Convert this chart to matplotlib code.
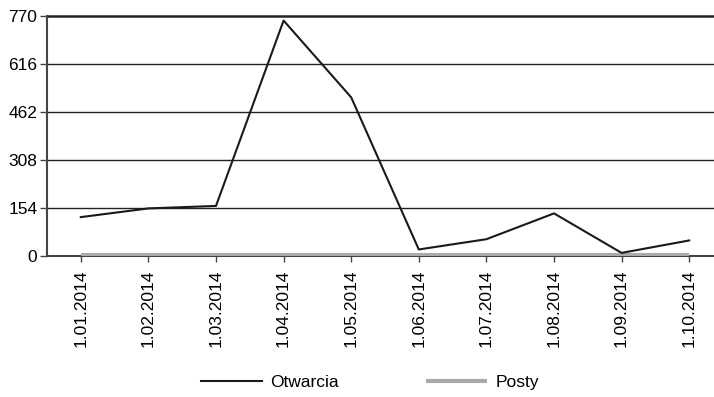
import matplotlib
matplotlib.use("Agg")
import matplotlib.pyplot as plt

dates = ["1.01.2014", "1.02.2014", "1.03.2014", "1.04.2014", "1.05.2014",
         "1.06.2014", "1.07.2014", "1.08.2014", "1.09.2014", "1.10.2014"]
otwarcia = [125, 153, 161, 757, 510, 21, 54, 137, 10, 50]
posty = [4, 4, 4, 4, 4, 4, 4, 4, 4, 4]
yticks = [0, 154, 308, 462, 616, 770]

plt.rcParams['font.family'] = ['Liberation Sans', 'DejaVu Sans']

fig = plt.figure(figsize=(7.14, 3.97), dpi=100)
# axes runs a bit past the right edge of the figure
ax = fig.add_axes([47 / 714, (397 - 256) / 397, (723 - 47) / 714, (256 - 16.5) / 397])

x = range(len(dates))
ax.plot(x, posty, color="#aaaaaa", lw=3, solid_capstyle="butt", label="Posty", zorder=3)
ax.plot(x, otwarcia, color="#1a1a1a", lw=1.5, label="Otwarcia", zorder=4)

ax.set_xlim(-0.5, len(dates) - 0.5)
ax.set_ylim(0, 770)
ax.set_yticks(yticks)
ax.set_yticklabels([str(v) for v in yticks], fontsize=12.5)
ax.set_xticks(list(x))
ax.set_xticklabels(dates, rotation=90, fontsize=12.5)

for v in yticks[1:]:
    ax.axhline(v, color="#222222", lw=1.0 if v < 770 else 1.8, zorder=1, clip_on=False)

for side in ["top", "right"]:
    ax.spines[side].set_visible(False)
ax.spines["left"].set_color("#444444")
ax.spines["left"].set_linewidth(1.5)
ax.spines["bottom"].set_color("#444444")
ax.spines["bottom"].set_linewidth(1.5)
ax.tick_params(axis="y", direction="out", length=5, width=1, color="#444444", pad=2)
ax.tick_params(axis="x", direction="out", length=4, width=1, color="#444444", pad=6)

handles, labels = ax.get_legend_handles_labels()
fig.legend(handles[::-1], labels[::-1], loc="center", bbox_to_anchor=(370 / 714, 1 - 382 / 397),
           ncol=2, frameon=False, fontsize=12.5, handlelength=3.5, columnspacing=5,
           handletextpad=0.5)

fig.savefig("out.png", dpi=100)
